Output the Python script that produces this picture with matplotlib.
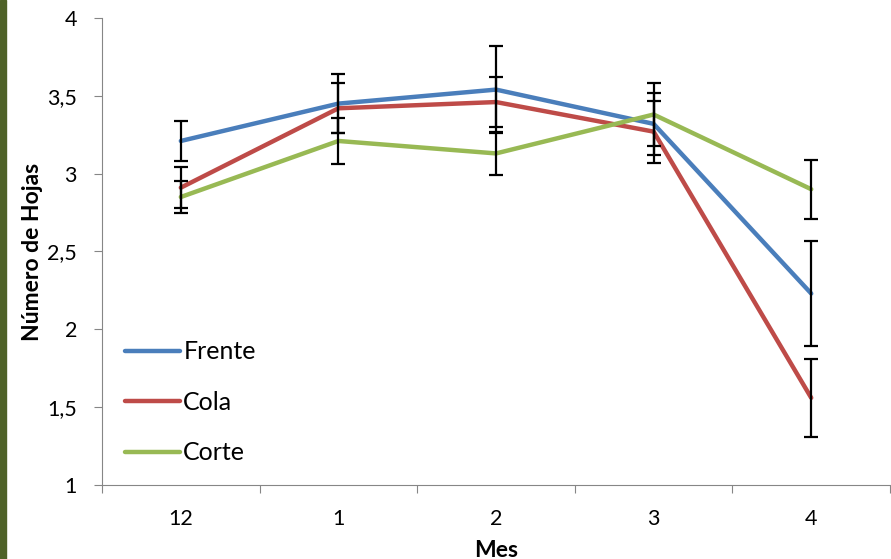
import matplotlib.pyplot as plt
from matplotlib.patches import Rectangle

plt.rcParams['font.family'] = ['Lato', 'DejaVu Sans']

meses = ["12", "1", "2", "3", "4"]
frente = [3.21, 3.45, 3.54, 3.32, 2.23]
cola = [2.91, 3.42, 3.46, 3.27, 1.56]
corte = [2.85, 3.21, 3.13, 3.38, 2.90]
frente_err = [0.13, 0.19, 0.28, 0.20, 0.34]
cola_err = [0.13, 0.16, 0.16, 0.20, 0.25]
corte_err = [0.10, 0.15, 0.14, 0.20, 0.19]

Colors = {"Frente": "#4A7EBB", "Cola": "#BE4B48", "Corte": "#98B954"}

fig = plt.figure(figsize=(8.91, 5.59), dpi=100)
ax = fig.add_axes([0.1145, 0.1324, 0.8844, 0.8354])

# dark strip on the left edge
fig.patches.append(Rectangle((0, 0), 0.0067, 1, transform=fig.transFigure,
                             color="#4F6228", zorder=0))

X = list(range(len(meses)))
series = [("Frente", frente, frente_err), ("Cola", cola, cola_err), ("Corte", corte, corte_err)]
for name, y, err in series:
    ax.plot(X, y, color=Colors[name], lw=3.2, label=name, zorder=3, solid_capstyle='round')
for name, y, err in series:
    ax.errorbar(X, y, yerr=err, fmt='none', ecolor='black', elinewidth=1.6,
                capsize=5, capthick=1.6, zorder=4)

ax.set_xlim(-0.5, 4.5)
ax.set_ylim(1, 4)
ax.set_yticks([1, 1.5, 2, 2.5, 3, 3.5, 4])
ax.set_yticklabels(["1", "1,5", "2", "2,5", "3", "3,5", "4"], fontsize=15.5)
ax.set_xticks([x - 0.5 for x in X] + [4.5])
ax.set_xticklabels([])
ax.set_xticks(X, minor=True)
ax.set_xticklabels(meses, minor=True, fontsize=15.5)
ax.tick_params(axis='x', which='minor', length=0, pad=17)
ax.tick_params(axis='both', which='major', length=6, color='#868686', direction='out')
ax.tick_params(axis='y', pad=12)
for s in ['top', 'right']:
    ax.spines[s].set_visible(False)
for s in ['left', 'bottom']:
    ax.spines[s].set_color('#868686')

ax.set_xlabel('Mes', fontsize=16.5, fontweight='bold', labelpad=8)
ax.set_ylabel('Número de Hojas', fontsize=16.5, fontweight='bold', labelpad=3)

ax.legend(loc='lower left', bbox_to_anchor=(0.0, -0.004), frameon=False, fontsize=18,
          handlelength=2.2, handletextpad=0.15, labelspacing=1.1)

plt.savefig('out.png', dpi=100)
